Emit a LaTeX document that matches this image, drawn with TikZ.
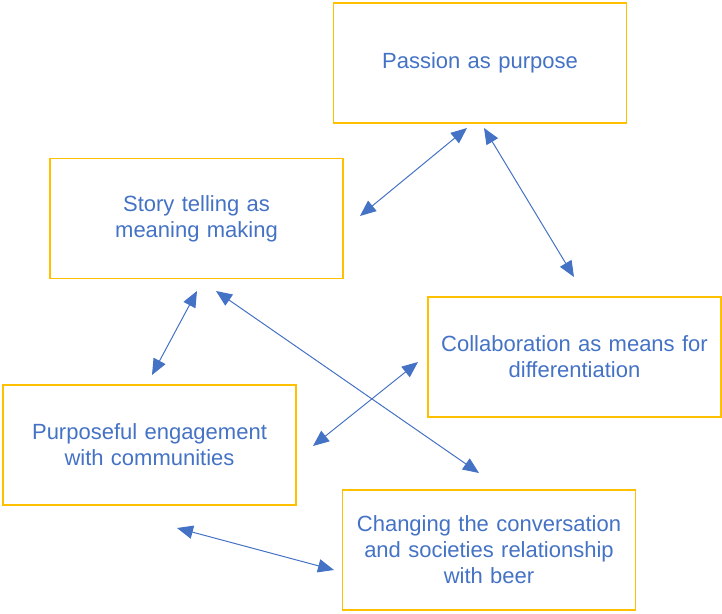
\documentclass[tikz,border=0pt]{standalone}
\usepackage{fontspec}
\setmainfont{Liberation Sans}
\usetikzlibrary{arrows.meta}
\definecolor{txtblue}{HTML}{4472C4}
\definecolor{boxgold}{HTML}{FFC000}
\begin{document}
\begin{tikzpicture}[x=0.75pt,y=-0.75pt,
  box/.style={draw=boxgold, line width=0.8pt, minimum width=293*0.75pt, minimum height=120*0.75pt,
    inner sep=0pt, text width=280*0.75pt, align=center, text=txtblue,
    font=\fontsize{16.5pt}{19.5pt}\selectfont},
  link/.style={draw=txtblue, line width=0.75pt, {Triangle[length=12pt,width=10pt]}-{Triangle[length=12pt,width=10pt]}}]
\useasboundingbox (0,0) rectangle (722,614);
\node[box] (passion) at (480,63) {Passion as purpose};
\node[box] (story) at (196.5,218.5) {Story telling as\\meaning making};
\node[box] (collab) at (574.5,357) {Collaboration as means for\\differentiation};
\node[box] (purpose) at (149.5,445) {Purposeful engagement\\with communities};
\node[box] (change) at (489,550) {Changing the conversation\\and societies relationship\\with beer};
\coordinate (a1) at (360,216); \coordinate (b1) at (467,128);
\coordinate (a2) at (484,128); \coordinate (b2) at (574,277);
\coordinate (a3) at (197,291); \coordinate (b3) at (152,375);
\coordinate (a4) at (216,291); \coordinate (b4) at (479,473);
\coordinate (a5) at (418,362); \coordinate (b5) at (313,446);
\coordinate (a6) at (177,528); \coordinate (b6) at (334,570);
\draw[link] (a1) -- (b1);
\draw[link] (a2) -- (b2);
\draw[link] (a3) -- (b3);
\draw[link] (a4) -- (b4);
\draw[link] (a5) -- (b5);
\draw[link] (a6) -- (b6);
\end{tikzpicture}
\end{document}
